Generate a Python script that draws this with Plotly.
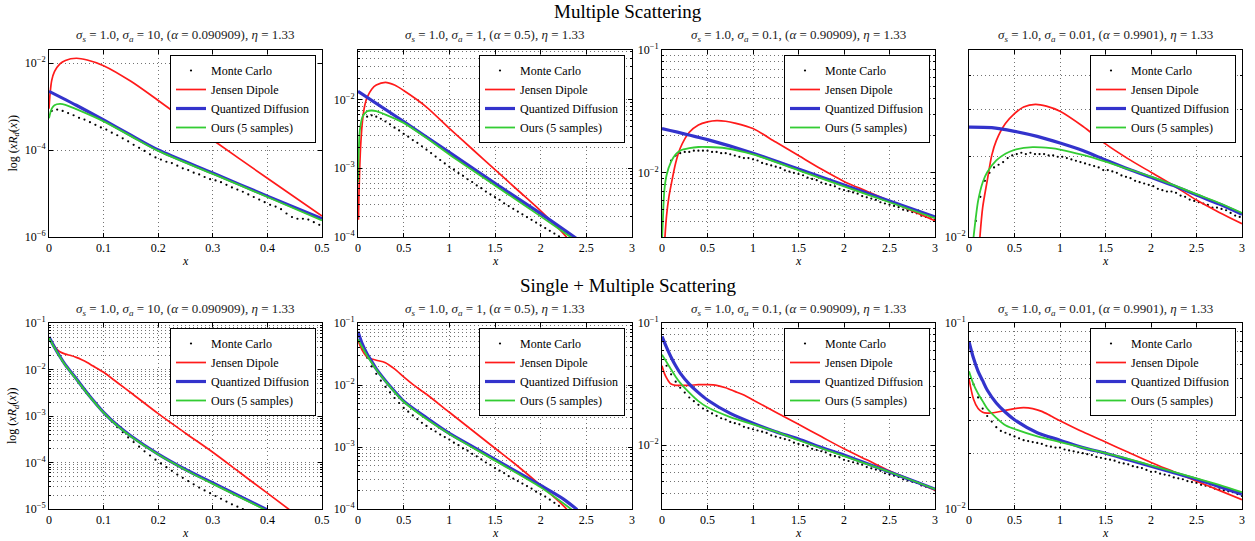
import numpy as np
import plotly.graph_objects as go

FONT = "Liberation Serif, Tinos, Times New Roman, Times, DejaVu Serif, serif"
W, H = 1255, 541

# ---------------- DATA (values are log10 of x*R_d(x)) ----------------
# Panel 1: multiple scattering, sigma_a = 10
p1_jd_x = [0.0, 0.002, 0.005, 0.01, 0.02, 0.03, 0.05, 0.07, 0.1, 0.15, 0.2, 0.3, 0.4, 0.5]
p1_jd_y = [-3.05, -2.70, -2.40, -2.20, -2.02, -1.94, -1.89, -1.93, -2.06, -2.42, -2.86, -3.77, -4.65, -5.52]
p1_qd_x = [0.0, 0.05, 0.1, 0.15, 0.2, 0.3, 0.4, 0.5]
p1_qd_y = [-2.65, -2.97, -3.31, -3.66, -4.00, -4.53, -5.06, -5.58]
p1_ours_x = [0.0, 0.005, 0.01, 0.02, 0.03, 0.05, 0.1, 0.15, 0.2, 0.3, 0.4, 0.5]
p1_ours_y = [-3.27, -3.05, -2.97, -2.94, -2.96, -3.06, -3.34, -3.68, -4.02, -4.55, -5.08, -5.62]
p1_mc_start, p1_mc_step = 0.005, 0.01
p1_mc_y = [-3.10, -3.07, -3.10, -3.15, -3.20, -3.26, -3.30, -3.36, -3.42, -3.48,
           -3.53, -3.60, -3.66, -3.73, -3.80, -3.88, -3.95, -4.02, -4.10, -4.17,
           -4.22, -4.27, -4.30, -4.36, -4.42, -4.46, -4.52, -4.56, -4.62, -4.67,
           -4.70, -4.74, -4.80, -4.86, -4.91, -4.96, -5.02, -5.08, -5.14, -5.20,
           -5.26, -5.30, -5.36, -5.46, -5.54, -5.58, -5.58, -5.60, -5.66, -5.72]

# Panel 2: multiple scattering, sigma_a = 1
p2_jd_x = [0.005, 0.01, 0.02, 0.03, 0.05, 0.075, 0.1, 0.15, 0.2, 0.3, 0.4, 0.5, 0.75, 1.0, 1.25, 1.5, 1.75, 2.0, 2.25, 2.3]
p2_jd_y = [-3.75, -3.40, -2.95, -2.65, -2.30, -2.08, -1.97, -1.85, -1.79, -1.75, -1.79, -1.87, -2.11, -2.42, -2.72, -3.02, -3.32, -3.62, -3.95, -4.03]
p2_qd_x = [0.0, 0.5, 1.0, 1.5, 2.0, 2.4]
p2_qd_y = [-1.88, -2.32, -2.77, -3.22, -3.66, -4.03]
p2_ours_x = [0.0, 0.01, 0.02, 0.05, 0.1, 0.15, 0.2, 0.3, 0.5, 0.75, 1.0, 1.5, 2.0, 2.35]
p2_ours_y = [-3.20, -2.70, -2.45, -2.25, -2.17, -2.16, -2.17, -2.22, -2.34, -2.56, -2.80, -3.25, -3.70, -4.02]
p2_mc_start, p2_mc_step = 0.10, 0.05
p2_mc_y = [-2.25, -2.23, -2.25, -2.28, -2.32, -2.36, -2.41, -2.45, -2.50, -2.54,
           -2.59, -2.63, -2.68, -2.73, -2.78, -2.83, -2.88, -2.93, -2.98, -3.02,
           -3.07, -3.11, -3.16, -3.20, -3.25, -3.29, -3.34, -3.38, -3.42, -3.46,
           -3.51, -3.55, -3.59, -3.63, -3.67, -3.71, -3.75, -3.79, -3.83, -3.87,
           -3.91, -3.95, -3.99]

# Panel 3: multiple scattering, sigma_a = 0.1
p3_jd_x = [0.03, 0.05, 0.075, 0.1, 0.15, 0.2, 0.3, 0.4, 0.5, 0.6, 0.7, 0.8, 1.0, 1.25, 1.5, 1.75, 2.0, 2.25, 2.5, 2.75, 3.0]
p3_jd_y = [-2.55, -2.35, -2.20, -2.10, -1.92, -1.80, -1.67, -1.61, -1.585, -1.575, -1.58, -1.595, -1.64, -1.75, -1.86, -1.97, -2.07, -2.15, -2.23, -2.31, -2.39]
p3_qd_x = [0.0, 0.5, 1.0, 1.5, 2.0, 2.5, 3.0]
p3_qd_y = [-1.64, -1.73, -1.84, -1.97, -2.10, -2.23, -2.36]
p3_ours_x = [0.0, 0.01, 0.025, 0.05, 0.1, 0.15, 0.2, 0.3, 0.4, 0.5, 0.7, 1.0, 1.5, 2.0, 2.5, 3.0]
p3_ours_y = [-2.55, -2.38, -2.15, -2.02, -1.91, -1.85, -1.82, -1.80, -1.79, -1.79, -1.80, -1.85, -1.98, -2.11, -2.24, -2.37]
p3_mc_start, p3_mc_step = 0.10, 0.05
p3_mc_y = [-1.90, -1.86, -1.84, -1.83, -1.83, -1.82, -1.82, -1.82, -1.82, -1.83,
           -1.83, -1.84, -1.84, -1.85, -1.86, -1.87, -1.88, -1.88, -1.89, -1.90,
           -1.92, -1.93, -1.94, -1.95, -1.96, -1.98, -1.99, -2.00, -2.01, -2.02,
           -2.04, -2.05, -2.06, -2.08, -2.09, -2.10, -2.11, -2.13, -2.14, -2.15,
           -2.16, -2.17, -2.19, -2.20, -2.21, -2.22, -2.24, -2.25, -2.26, -2.27,
           -2.28, -2.30, -2.31, -2.32, -2.33, -2.35, -2.36, -2.37, -2.38]

# Panel 4: multiple scattering, sigma_a = 0.01
p4_jd_x = [0.12, 0.15, 0.2, 0.25, 0.3, 0.4, 0.5, 0.6, 0.73, 0.85, 1.0, 1.25, 1.5, 1.75, 2.0, 2.25, 2.5, 2.75, 3.0]
p4_jd_y = [-2.00, -1.89, -1.79, -1.695, -1.64, -1.576, -1.539, -1.514, -1.504, -1.511, -1.530, -1.586, -1.652, -1.708, -1.758, -1.808, -1.862, -1.908, -1.950]
p4_qd_x = [0.0, 0.25, 0.5, 0.75, 1.0, 1.25, 1.5, 1.75, 2.0, 2.25, 2.5, 2.75, 3.0]
p4_qd_y = [-1.589, -1.591, -1.605, -1.624, -1.649, -1.677, -1.712, -1.746, -1.777, -1.808, -1.843, -1.877, -1.915]
p4_ours_x = [0.05, 0.075, 0.1, 0.15, 0.2, 0.3, 0.4, 0.5, 0.7, 0.9, 1.0, 1.25, 1.5, 1.75, 2.0, 2.25, 2.5, 2.75, 3.0]
p4_ours_y = [-2.00, -1.927, -1.865, -1.796, -1.758, -1.714, -1.689, -1.674, -1.664, -1.668, -1.673, -1.693, -1.718, -1.746, -1.774, -1.806, -1.840, -1.873, -1.910]
p4_mc_start, p4_mc_step = 0.075, 0.05
p4_mc_y = [-1.94, -1.85, -1.79, -1.76, -1.74, -1.73, -1.72, -1.705, -1.695, -1.69,
           -1.685, -1.69, -1.685, -1.69, -1.69, -1.69, -1.695, -1.695, -1.70, -1.70,
           -1.705, -1.71, -1.715, -1.72, -1.725, -1.73, -1.735, -1.74, -1.75, -1.75,
           -1.755, -1.76, -1.77, -1.775, -1.78, -1.79, -1.795, -1.80, -1.805, -1.81,
           -1.82, -1.825, -1.83, -1.83, -1.835, -1.845, -1.85, -1.86, -1.865, -1.87,
           -1.875, -1.88, -1.89, -1.89, -1.895, -1.90, -1.91, -1.92, -1.925]

# Panel 5: single + multiple scattering, sigma_a = 10
p5_jd_x = [0.0, 0.005, 0.01, 0.015, 0.02, 0.03, 0.04, 0.05, 0.06, 0.07, 0.08, 0.1, 0.125, 0.15, 0.2, 0.25, 0.3, 0.35, 0.4, 0.45]
p5_jd_y = [-1.34, -1.42, -1.50, -1.57, -1.62, -1.67, -1.70, -1.74, -1.79, -1.85, -1.92, -2.06, -2.28, -2.50, -2.95, -3.37, -3.78, -4.22, -4.66, -5.10]
p5_qd_x = [0.0, 0.01, 0.02, 0.03, 0.05, 0.075, 0.1, 0.125, 0.15, 0.2, 0.25, 0.3, 0.35, 0.4]
p5_qd_y = [-1.30, -1.52, -1.72, -1.90, -2.20, -2.58, -2.92, -3.20, -3.43, -3.82, -4.15, -4.44, -4.73, -5.02]
p5_ours_x = [0.0, 0.01, 0.02, 0.03, 0.05, 0.075, 0.1, 0.125, 0.15, 0.2, 0.25, 0.3, 0.35, 0.4]
p5_ours_y = [-1.32, -1.53, -1.73, -1.91, -2.21, -2.59, -2.93, -3.21, -3.44, -3.83, -4.16, -4.46, -4.75, -5.04]
p5_mc_start, p5_mc_step = 0.005, 0.01
p5_mc_y = [-1.42, -1.62, -1.82, -1.98, -2.13, -2.28, -2.43, -2.58, -2.72, -2.86,
           -3.00, -3.12, -3.24, -3.35, -3.46, -3.56, -3.66, -3.76, -3.85, -3.94,
           -4.02, -4.10, -4.18, -4.26, -4.33, -4.40, -4.47, -4.54, -4.60, -4.66,
           -4.72, -4.78, -4.84, -4.90, -4.95, -5.00]

# Panel 6: single + multiple scattering, sigma_a = 1
p6_jd_x = [0.0, 0.05, 0.1, 0.15, 0.2, 0.3, 0.4, 0.5, 0.6, 0.75, 1.0, 1.25, 1.5, 1.75, 2.0, 2.25, 2.3]
p6_jd_y = [-1.28, -1.45, -1.55, -1.58, -1.60, -1.64, -1.74, -1.87, -1.99, -2.15, -2.44, -2.73, -3.02, -3.31, -3.62, -3.95, -4.03]
p6_qd_x = [0.0, 0.05, 0.1, 0.15, 0.2, 0.3, 0.4, 0.5, 0.75, 1.0, 1.25, 1.5, 1.75, 2.0, 2.25, 2.4]
p6_qd_y = [-1.14, -1.35, -1.50, -1.62, -1.74, -1.93, -2.10, -2.26, -2.53, -2.78, -2.99, -3.20, -3.41, -3.62, -3.84, -4.01]
p6_ours_x = [0.0, 0.05, 0.1, 0.15, 0.2, 0.3, 0.5, 0.75, 1.0, 1.5, 2.0, 2.35]
p6_ours_y = [-1.26, -1.40, -1.53, -1.64, -1.75, -1.94, -2.27, -2.55, -2.79, -3.22, -3.65, -4.02]
p6_mc_start, p6_mc_step = 0.05, 0.05
p6_mc_y = [-1.42, -1.56, -1.70, -1.82, -1.93, -2.03, -2.12, -2.21, -2.29, -2.37,
           -2.43, -2.49, -2.55, -2.61, -2.66, -2.71, -2.75, -2.80, -2.84, -2.88,
           -2.93, -2.97, -3.02, -3.06, -3.11, -3.15, -3.20, -3.25, -3.29, -3.34,
           -3.38, -3.42, -3.47, -3.51, -3.55, -3.59, -3.63, -3.67, -3.72, -3.76,
           -3.80, -3.85, -3.90, -3.95]

# Panel 7: single + multiple scattering, sigma_a = 0.1
p7_jd_x = [0.0, 0.025, 0.05, 0.075, 0.1, 0.15, 0.2, 0.3, 0.4, 0.5, 0.6, 0.7, 0.8, 0.9, 1.0, 1.25, 1.5, 1.75, 2.0, 2.25, 2.5, 2.75, 3.0]
p7_jd_y = [-1.35, -1.41, -1.45, -1.48, -1.50, -1.51, -1.51, -1.51, -1.505, -1.505, -1.51, -1.53, -1.56, -1.59, -1.63, -1.73, -1.83, -1.93, -2.03, -2.12, -2.21, -2.29, -2.37]
p7_qd_x = [0.0, 0.05, 0.1, 0.15, 0.2, 0.3, 0.4, 0.5, 0.75, 1.0, 1.25, 1.5, 1.75, 2.0, 2.25, 2.5, 2.75, 3.0]
p7_qd_y = [-1.11, -1.20, -1.28, -1.35, -1.41, -1.50, -1.57, -1.63, -1.74, -1.82, -1.89, -1.95, -2.02, -2.08, -2.15, -2.22, -2.29, -2.36]
p7_ours_x = [0.0, 0.05, 0.1, 0.15, 0.2, 0.3, 0.4, 0.5, 0.75, 1.0, 1.25, 1.5, 2.0, 2.5, 3.0]
p7_ours_y = [-1.26, -1.32, -1.38, -1.44, -1.49, -1.57, -1.64, -1.69, -1.77, -1.83, -1.89, -1.96, -2.09, -2.22, -2.36]
p7_mc_start, p7_mc_step = 0.05, 0.05
p7_mc_y = [-1.35, -1.42, -1.48, -1.53, -1.57, -1.61, -1.64, -1.67, -1.70, -1.72,
           -1.74, -1.76, -1.78, -1.79, -1.81, -1.82, -1.83, -1.85, -1.86, -1.87,
           -1.88, -1.89, -1.90, -1.92, -1.93, -1.94, -1.95, -1.96, -1.98, -1.99,
           -2.00, -2.01, -2.03, -2.04, -2.05, -2.06, -2.08, -2.09, -2.10, -2.12,
           -2.13, -2.14, -2.15, -2.16, -2.18, -2.19, -2.20, -2.21, -2.23, -2.24,
           -2.25, -2.26, -2.28, -2.29, -2.30, -2.31, -2.33, -2.34, -2.35, -2.37]

# Panel 8: single + multiple scattering, sigma_a = 0.01
p8_jd_x = [0.0, 0.05, 0.1, 0.15, 0.2, 0.3, 0.4, 0.5, 0.6, 0.7, 0.8, 0.9, 1.0, 1.25, 1.5, 1.75, 2.0, 2.25, 2.5, 2.75, 3.0]
p8_jd_y = [-1.30, -1.41, -1.46, -1.48, -1.485, -1.48, -1.47, -1.46, -1.455, -1.46, -1.475, -1.50, -1.525, -1.585, -1.64, -1.695, -1.75, -1.80, -1.85, -1.90, -1.95]
p8_qd_x = [0.0, 0.05, 0.1, 0.15, 0.2, 0.3, 0.4, 0.5, 0.75, 1.0, 1.25, 1.5, 1.75, 2.0, 2.25, 2.5, 2.75, 3.0]
p8_qd_y = [-1.10, -1.19, -1.26, -1.31, -1.36, -1.43, -1.48, -1.52, -1.59, -1.63, -1.67, -1.70, -1.735, -1.77, -1.805, -1.84, -1.88, -1.92]
p8_ours_x = [0.0, 0.05, 0.1, 0.15, 0.2, 0.3, 0.4, 0.5, 0.75, 1.0, 1.25, 1.5, 1.75, 2.0, 2.25, 2.5, 2.75, 3.0]
p8_ours_y = [-1.26, -1.33, -1.38, -1.42, -1.46, -1.51, -1.55, -1.57, -1.61, -1.64, -1.67, -1.70, -1.73, -1.765, -1.80, -1.835, -1.87, -1.91]
p8_mc_start, p8_mc_step = 0.05, 0.05
p8_mc_y = [-1.33, -1.40, -1.46, -1.50, -1.53, -1.56, -1.58, -1.59, -1.60, -1.61,
           -1.62, -1.63, -1.635, -1.64, -1.645, -1.65, -1.66, -1.665, -1.67, -1.67,
           -1.68, -1.685, -1.69, -1.695, -1.70, -1.705, -1.71, -1.72, -1.725, -1.73,
           -1.735, -1.74, -1.75, -1.755, -1.76, -1.77, -1.775, -1.78, -1.79, -1.80,
           -1.80, -1.81, -1.815, -1.82, -1.83, -1.835, -1.84, -1.85, -1.855, -1.86,
           -1.87, -1.875, -1.88, -1.89, -1.895, -1.90, -1.905, -1.91, -1.92, -1.93]

# Subplot titles
sub_titles = [
    "<i>σ<sub>s</sub></i> = 1.0, <i>σ<sub>a</sub></i> = 10, (<i>α</i> = 0.090909), <i>η</i> = 1.33",
    "<i>σ<sub>s</sub></i> = 1.0, <i>σ<sub>a</sub></i> = 1, (<i>α</i> = 0.5), <i>η</i> = 1.33",
    "<i>σ<sub>s</sub></i> = 1.0, <i>σ<sub>a</sub></i> = 0.1, (<i>α</i> = 0.90909), <i>η</i> = 1.33",
    "<i>σ<sub>s</sub></i> = 1.0, <i>σ<sub>a</sub></i> = 0.01, (<i>α</i> = 0.9901), <i>η</i> = 1.33",
]
row_titles = ["Multiple Scattering", "Single + Multiple Scattering"]
series_names = ["Monte Carlo", "Jensen Dipole", "Quantized Diffusion", "Ours (5 samples)"]

# axis ranges (log10 for y)
x_max = [0.5, 3, 3, 3, 0.5, 3, 3, 3]
y_ranges = [[-6, -1.70], [-4, -1.28], [np.log10(0.003), -1], [-2, np.log10(0.05)],
            [-5, -1], [-4, -1], [np.log10(0.003), -1], [-2, -1]]
y_major_exp = [[-6, -4, -2], [-4, -3, -2], [-2, -1], [-2],
               [-5, -4, -3, -2, -1], [-4, -3, -2, -1], [-2, -1], [-2, -1]]
x_ticks_small = [0, 0.1, 0.2, 0.3, 0.4, 0.5]
x_ticks_large = [0, 0.5, 1, 1.5, 2, 2.5, 3]
x_ticktext_small = ["0", "0.1", "0.2", "0.3", "0.4", "0.5"]
x_ticktext_large = ["0", "0.5", "1", "1.5", "2", "2.5", "3"]

panels = [
    (p1_jd_x, p1_jd_y, p1_qd_x, p1_qd_y, p1_ours_x, p1_ours_y, p1_mc_start, p1_mc_step, p1_mc_y),
    (p2_jd_x, p2_jd_y, p2_qd_x, p2_qd_y, p2_ours_x, p2_ours_y, p2_mc_start, p2_mc_step, p2_mc_y),
    (p3_jd_x, p3_jd_y, p3_qd_x, p3_qd_y, p3_ours_x, p3_ours_y, p3_mc_start, p3_mc_step, p3_mc_y),
    (p4_jd_x, p4_jd_y, p4_qd_x, p4_qd_y, p4_ours_x, p4_ours_y, p4_mc_start, p4_mc_step, p4_mc_y),
    (p5_jd_x, p5_jd_y, p5_qd_x, p5_qd_y, p5_ours_x, p5_ours_y, p5_mc_start, p5_mc_step, p5_mc_y),
    (p6_jd_x, p6_jd_y, p6_qd_x, p6_qd_y, p6_ours_x, p6_ours_y, p6_mc_start, p6_mc_step, p6_mc_y),
    (p7_jd_x, p7_jd_y, p7_qd_x, p7_qd_y, p7_ours_x, p7_ours_y, p7_mc_start, p7_mc_step, p7_mc_y),
    (p8_jd_x, p8_jd_y, p8_qd_x, p8_qd_y, p8_ours_x, p8_ours_y, p8_mc_start, p8_mc_step, p8_mc_y),
]

# ---------------- LAYOUT GEOMETRY (pixels) ----------------
x_dom_px = [(49, 322), (358, 632), (662, 935), (969, 1242)]
y_dom_px = [(50, 237), (323, 509)]
legend_right_px = [316, 625, 930, 1236]
legend_top_px = [55, 328]

RED, BLUE, GREEN = "#ff1a1a", "#3333cc", "#33cc33"
GRID = "rgba(0,0,0,0.55)"

fig = go.Figure()
layout = dict(
    width=W, height=H, autosize=False,
    margin=dict(l=0, r=0, t=0, b=0, pad=0, autoexpand=False),
    paper_bgcolor="white", plot_bgcolor="white",
    font=dict(family=FONT, size=12, color="black"),
    showlegend=True,
)
annotations = []

for i, (jx, jy, qx, qy, ox, oy, mstart, mstep, my) in enumerate(panels):
    r, c = divmod(i, 4)
    sfx = "" if i == 0 else str(i + 1)
    xa, ya, leg = "x" + sfx, "y" + sfx, "legend" + sfx
    mc_x = [round(mstart + mstep * k, 4) for k in range(len(my))]
    mc_v = [10 ** v for v in my]

    fig.add_trace(go.Scatter(x=mc_x, y=mc_v, mode="markers", name=series_names[0],
                             marker=dict(color="black", size=2.2), xaxis=xa, yaxis=ya, legend=leg))
    fig.add_trace(go.Scatter(x=jx, y=[10 ** v for v in jy], mode="lines", name=series_names[1],
                             line=dict(color=RED, width=1.7, shape="spline", smoothing=0.8),
                             xaxis=xa, yaxis=ya, legend=leg))
    fig.add_trace(go.Scatter(x=qx, y=[10 ** v for v in qy], mode="lines", name=series_names[2],
                             line=dict(color=BLUE, width=3.2, shape="spline", smoothing=0.8),
                             xaxis=xa, yaxis=ya, legend=leg))
    fig.add_trace(go.Scatter(x=ox, y=[10 ** v for v in oy], mode="lines", name=series_names[3],
                             line=dict(color=GREEN, width=1.8, shape="spline", smoothing=0.8),
                             xaxis=xa, yaxis=ya, legend=leg))

    x0, x1 = x_dom_px[c]
    y0, y1 = y_dom_px[r]
    small = x_max[i] == 0.5
    common = dict(showline=True, linecolor="black", linewidth=1, mirror="ticks",
                  ticks="inside", ticklen=4, tickcolor="black", tickwidth=1,
                  showgrid=True, gridcolor=GRID, griddash="1px,3px", gridwidth=1,
                  zeroline=False, automargin=False,
                  tickfont=dict(family=FONT, size=12, color="black"))
    layout["xaxis" + sfx] = dict(
        common, domain=[x0 / W, x1 / W], anchor=ya, range=[0, x_max[i]],
        tickmode="array",
        tickvals=x_ticks_small if small else x_ticks_large,
        ticktext=x_ticktext_small if small else x_ticktext_large,
    )
    lo, hi = y_ranges[i]
    majors = y_major_exp[i]
    minor_vals = []
    if i != 0:
        for e in range(int(np.floor(lo)), int(np.ceil(hi)) + 1):
            for k in range(2, 10):
                v = k * 10.0 ** e
                if 10 ** lo < v < 10 ** hi:
                    minor_vals.append(v)
    layout["yaxis" + sfx] = dict(
        common, type="log", domain=[1 - y1 / H, 1 - y0 / H], anchor=xa, range=[lo, hi],
        tickmode="array", tickvals=[10.0 ** e for e in majors],
        ticktext=["10<sup>−%d</sup>" % (-e) for e in majors],
        minor=dict(tickmode="array", tickvals=minor_vals, showgrid=True, gridcolor=GRID,
                   griddash="1px,3px", gridwidth=1, ticks="inside", ticklen=2, tickcolor="black"),
    )
    layout[leg] = dict(
        x=legend_right_px[c] / W, y=1 - legend_top_px[r] / H, xanchor="right", yanchor="top",
        bgcolor="white", bordercolor="black", borderwidth=1,
        font=dict(family=FONT, size=12, color="black"), tracegroupgap=0,
    )
    # subplot title
    annotations.append(dict(
        text=sub_titles[c], x=(x0 + x1) / 2 / W, y=1 - (y0 - 14) / H, xref="paper", yref="paper",
        xanchor="center", yanchor="middle", showarrow=False,
        font=dict(family=FONT, size=13, color="#222")))
    # x label
    annotations.append(dict(
        text="<i>x</i>", x=(x0 + x1) / 2 / W, y=1 - (y1 + 24) / H, xref="paper", yref="paper",
        xanchor="center", yanchor="middle", showarrow=False,
        font=dict(family=FONT, size=12, color="black")))
    if c == 0:
        annotations.append(dict(
            text="log (<i>xR<sub>d</sub></i>(<i>x</i>))", x=13 / W, y=1 - (y0 + y1) / 2 / H,
            xref="paper", yref="paper", xanchor="center", yanchor="middle", textangle=-90,
            showarrow=False, font=dict(family=FONT, size=12, color="black")))

annotations.append(dict(text=row_titles[0], x=0.5, y=1 - 12 / H, xref="paper", yref="paper",
                        xanchor="center", yanchor="middle", showarrow=False,
                        font=dict(family=FONT, size=19, color="black")))
annotations.append(dict(text=row_titles[1], x=0.5, y=1 - 285 / H, xref="paper", yref="paper",
                        xanchor="center", yanchor="middle", showarrow=False,
                        font=dict(family=FONT, size=19, color="black")))
layout["annotations"] = annotations
fig.update_layout(**layout)
fig.write_html("out.html", config={"displayModeBar": False},
               post_script="document.body.style.margin='0px';document.body.style.padding='0px';")
